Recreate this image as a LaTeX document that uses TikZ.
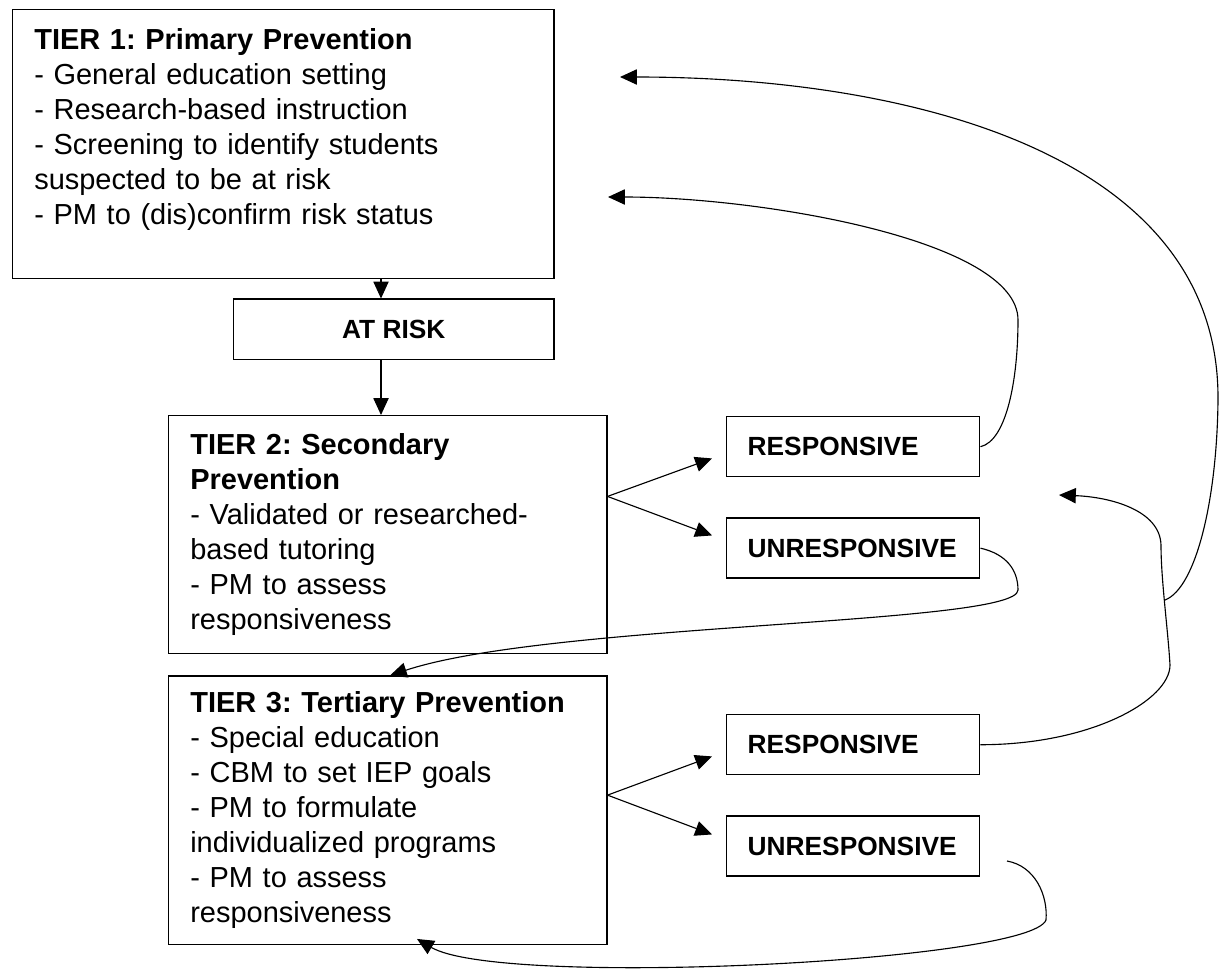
\documentclass[tikz,border=0pt]{standalone}
\usepackage{fontspec}
\setmainfont{Liberation Sans}
\frenchspacing
\usetikzlibrary{arrows.meta,positioning,calc}

\begin{document}
\begin{tikzpicture}[x=0.025cm, y=-0.025cm, line width=0.8pt,
        >={Triangle[length=0.42cm,width=0.38cm]},
        tierbox/.style={rectangle, draw, line width=1pt, fill=white, anchor=north west, align=left, inner xsep=0.54cm, font=\fontsize{20.6}{24.9}\selectfont},
        statebox/.style={rectangle, draw, line width=1pt, fill=white, minimum width=6.325cm, minimum height=1.5cm, text width=5.275cm, inner xsep=0.525cm, align=left, font=\fontsize{18.7}{22}\selectfont\bfseries}]

        \useasboundingbox (0,0) rectangle (1219,969);

        % tiers
        \node[tierbox, text width=12.445cm, minimum height=6.725cm] (tier1) at (12,9) {\textbf{TIER 1: Primary Prevention}\\- General education setting\\- Research-based instruction\\- Screening to identify students\\suspected to be at risk\\- PM to (dis)confirm risk status\\ \mbox{}};
        \node[rectangle, draw, line width=1pt, fill=white, minimum width=8cm, minimum height=1.5cm, font=\fontsize{18.7}{22}\selectfont\bfseries, below=0.475cm of tier1.south east, anchor=north east] (atrisk) {AT RISK};
        \node[tierbox, text width=9.87cm, minimum height=5.95cm] (tier2) at (168,415) {\textbf{TIER 2: Secondary}\\\textbf{Prevention}\\- Validated or researched-\\based tutoring\\- PM to assess\\responsiveness};
        \node[tierbox, text width=9.87cm, minimum height=6.7cm, below=0.525cm of tier2.south west, anchor=north west] (tier3) {\textbf{TIER 3: Tertiary Prevention}\\- Special education\\- CBM to set IEP goals\\- PM to formulate\\individualized programs\\- PM to assess\\responsiveness};

        % outcomes
        \node[statebox, anchor=north west] (resp2) at (726,416) {RESPONSIVE};
        \node[statebox, below=1cm of resp2] (unresp2) {UNRESPONSIVE};
        \node[statebox, anchor=north west] (resp3) at (726,714) {RESPONSIVE};
        \node[statebox, below=1cm of resp3] (unresp3) {UNRESPONSIVE};

        \coordinate (spine) at (381,0);
        \coordinate (fork2) at ($(tier2.north east)!0.34!(tier2.south east)$);
        \coordinate (fork3) at ($(tier3.north east)!0.444!(tier3.south east)$);
        \coordinate (top1) at (620,77);
        \coordinate (mid1) at (608,197);
        \coordinate (junc) at (1165,600);
        \coordinate (loose) at (1059,495);
        \coordinate (tail3) at (1007,861);

        \draw[->] (tier1.south -| spine) -- (atrisk.north -| spine);
        \draw[->] (atrisk.south -| spine) -- (tier2.north -| spine);

        \draw[->] (fork2) -- ($(resp2.south west)+(-14,-19)$);
        \draw[->] (fork2) -- ($(unresp2.north west)+(-14,18)$);
        \draw[->] (fork3) -- ($(resp3.south west)+(-14,-19)$);
        \draw[->] (fork3) -- ($(unresp3.north west)+(-14,19)$);

        % loops back
        \draw[->] (resp2.east) .. controls +(26,-6) and +(0,60) .. (1018,320) .. controls +(0,-80) and +(152,0) .. (mid1);
        \draw[->] (unresp2.east) .. controls +(26,6) and +(0,-20) .. (1018,590) .. controls +(0,35) and +(160,-53) .. ($(tier3.north west)+(222,0)$);
        \draw[->] (resp3.east) .. controls +(111,0) and +(0,35) .. (1170,665) .. controls (1168,630) and (1161,580) .. (1161,545) .. controls (1160,510) and (1110,497) .. (loose);
        \draw[->] (junc) .. controls +(31,-12) and +(-1,100) .. (1218,400) .. controls +(2,-250) and +(280,0) .. (top1);
        \draw[->] (tail3) .. controls +(28,5) and +(2,-25) .. (1046,920) .. controls +(-16,42) and +(83,49) .. ($(tier3.south west)+(249,-6)$);

    \end{tikzpicture}
\end{document}
